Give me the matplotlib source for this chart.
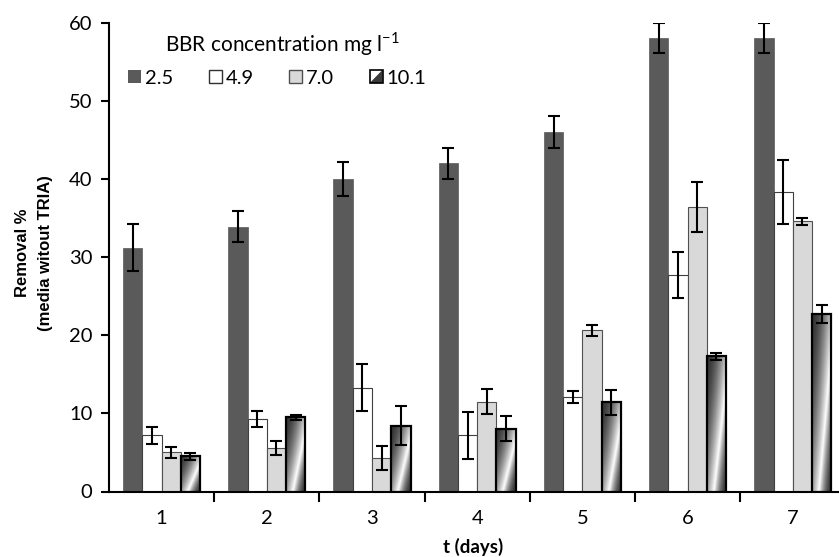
import matplotlib
matplotlib.use('Agg')
import matplotlib.pyplot as plt
import numpy as np
from matplotlib.patches import Rectangle, Polygon
from matplotlib.legend_handler import HandlerBase

plt.rcParams['font.family'] = ['Lato', 'DejaVu Sans']
plt.rcParams['mathtext.fontset'] = 'custom'
plt.rcParams['mathtext.rm'] = 'Lato'

days = [1, 2, 3, 4, 5, 6, 7]
labels = ['2.5', '4.9', '7.0', '10.1']

c25 = [31.2, 33.9, 40.0, 42.0, 46.0, 58.0, 58.0]
c25_err = [3.0, 2.0, 2.2, 2.0, 2.0, 1.9, 1.9]
c49 = [7.2, 9.3, 13.3, 7.2, 12.1, 27.7, 38.3]
c49_err = [1.1, 1.0, 3.0, 3.0, 0.8, 3.0, 4.1]
c70 = [5.0, 5.6, 4.3, 11.5, 20.6, 36.4, 34.6]
c70_err = [0.7, 0.9, 1.5, 1.6, 0.7, 3.2, 0.45]
c101 = [4.5, 9.5, 8.4, 8.0, 11.4, 17.3, 22.7]
c101_err = [0.45, 0.3, 2.5, 1.6, 1.6, 0.45, 1.1]


class GradHandler(HandlerBase):
    # small square with a dark lower-right triangle, like the gradient bars
    def create_artists(self, legend, orig_handle, xdescent, ydescent,
                       width, height, fontsize, trans):
        x0, y0 = -xdescent, -ydescent
        bg = Rectangle((x0, y0), width, height, fc='white', ec='none', transform=trans)
        tri = Polygon([[x0 + width, y0], [x0 + width, y0 + height], [x0, y0]],
                      fc='#3a3a3a', ec='none', transform=trans)
        edge = Rectangle((x0, y0), width, height, fc='none', ec='black', lw=1.2, transform=trans)
        return [bg, tri, edge]


def gradient_image(nx=40, ny=300):
    u = np.linspace(0, 1, nx)
    v = np.linspace(0, 1, ny)
    U, V = np.meshgrid(u, v)
    d = U - 0.8 * V
    f = np.where(d < 0.35, (d + 0.8) / 1.15, (1.0 - d) / 0.65)
    f = np.clip(f, 0, 1)
    return 0.2 + 0.8 * f ** 1.8


fig = plt.figure(figsize=(8.39, 5.57), dpi=100)
ax = fig.add_axes([109 / 839, 65.5 / 557, 730 / 839, 469 / 557])

x = np.array(days, dtype=float)
w = 0.183
offs = [-1.5 * w, -0.5 * w, 0.5 * w, 1.5 * w]

b1 = ax.bar(x + offs[0], c25, w, color='#5a5a5a', edgecolor='#5a5a5a', lw=0.5, zorder=2)
b2 = ax.bar(x + offs[1], c49, w, color='white', edgecolor='#404040', lw=0.8, zorder=2)
b3 = ax.bar(x + offs[2], c70, w, color='#d9d9d9', edgecolor='#505050', lw=0.8, zorder=2)
b4 = ax.bar(x + offs[3], c101, w, color='none', edgecolor='black', lw=1.6, zorder=4)

img = gradient_image()
for bar in b4:
    x0 = bar.get_x()
    h = bar.get_height()
    im = ax.imshow(img, extent=[x0, x0 + bar.get_width(), 0, h], origin='lower',
                   cmap='gray', vmin=0, vmax=1, aspect='auto', zorder=3,
                   interpolation='bilinear')
    im.set_clip_path(bar)

ek = dict(fmt='none', ecolor='black', elinewidth=1.5, capsize=4.5, capthick=1.5, zorder=5)
ax.errorbar(x + offs[0], c25, yerr=c25_err, **ek)
ax.errorbar(x + offs[1], c49, yerr=c49_err, **ek)
ax.errorbar(x + offs[2], c70, yerr=c70_err, **ek)
ax.errorbar(x + offs[3], c101, yerr=c101_err, **ek)

ax.set_xlim(0.5, 0.5 + 730 / 105.2)
ax.set_ylim(0, 60)
ax.set_xticks(days)
ax.set_xticklabels([str(d) for d in days], fontsize=14.5)
ax.set_xticks(np.arange(1.5, 7.5, 1), minor=True)
ax.tick_params(axis='x', which='major', length=0, pad=13)
ax.tick_params(axis='x', which='minor', length=7, width=1.5, direction='out')
ax.set_yticks(np.arange(0, 61, 10))
ax.tick_params(axis='y', labelsize=14.5, length=6, width=1.5, direction='out', pad=6)
for s in ['top', 'right']:
    ax.spines[s].set_visible(False)
ax.spines['left'].set_linewidth(1.5)
ax.spines['bottom'].set_linewidth(1.5)

ylab_font = ['Liberation Sans', 'DejaVu Sans']
fig.text(23 / 839, 1 - 253 / 557, 'Removal %', rotation=90, ha='center', va='center',
         fontsize=12, fontweight='bold', family=ylab_font)
fig.text(46 / 839, 1 - 253 / 557, '(media witout TRIA)', rotation=90, ha='center',
         va='center', fontsize=12, fontweight='bold', family=ylab_font)
fig.text(473 / 839, 1 - 547 / 557, 't (days)', ha='center', va='center',
         fontsize=13.5, fontweight='bold')

fig.text(165 / 839, 1 - 44 / 557, 'BBR concentration mg l$^{\\mathrm{-1}}$',
         ha='left', va='center', fontsize=15)

leg = ax.legend([Rectangle((0, 0), 1, 1, fc='#5a5a5a', ec='none'),
                 Rectangle((0, 0), 1, 1, fc='white', ec='#303030', lw=1),
                 Rectangle((0, 0), 1, 1, fc='#d9d9d9', ec='#505050', lw=1),
                 'grad'],
                labels, handler_map={str: GradHandler()}, ncol=4, frameon=False,
                fontsize=14.5, handlelength=0.65, handleheight=0.65, handletextpad=0.2,
                columnspacing=1.75, loc='center left', borderpad=0, borderaxespad=0,
                bbox_to_anchor=(128 / 839, 1 - 78 / 557), bbox_transform=fig.transFigure)

fig.savefig('out.png', dpi=100)
